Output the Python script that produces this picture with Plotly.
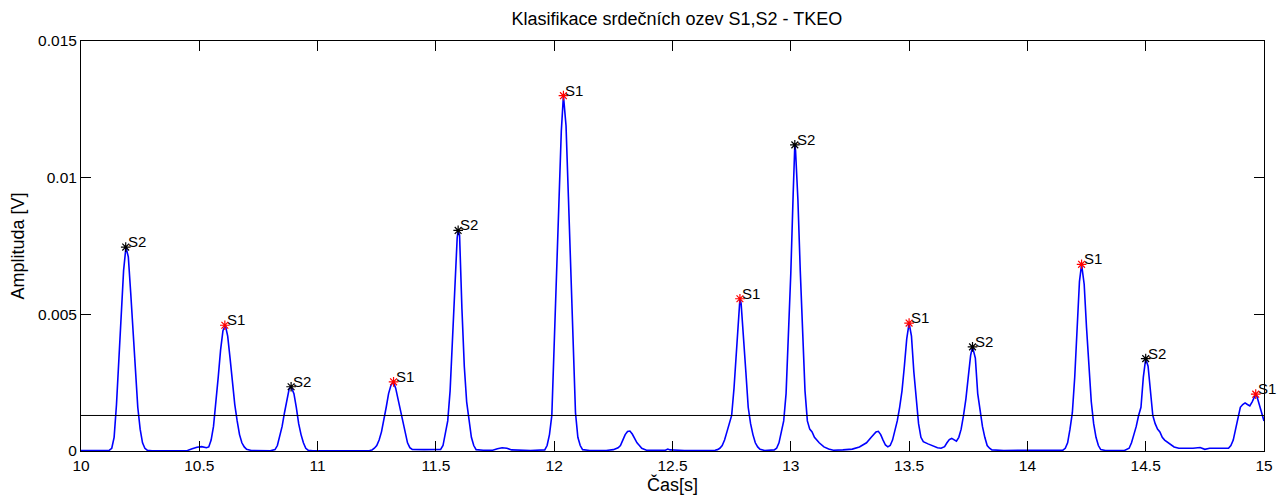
import plotly.graph_objects as go

# ---- data ----
time_s = [
    10.00, 10.05, 10.10, 10.12, 10.13, 10.14, 10.15, 10.16, 10.17, 10.18,
    10.19, 10.20, 10.21, 10.22, 10.23, 10.24, 10.25, 10.26, 10.27, 10.28,
    10.30, 10.40, 10.45, 10.47, 10.49, 10.51, 10.53, 10.54, 10.55, 10.56,
    10.57, 10.58, 10.59, 10.60, 10.61, 10.62, 10.63, 10.64, 10.65, 10.66,
    10.67, 10.68, 10.69, 10.70, 10.72, 10.80, 10.82, 10.83, 10.84, 10.85,
    10.86, 10.87, 10.88, 10.888, 10.90, 10.91, 10.92, 10.93, 10.94, 10.95,
    10.96, 10.98, 11.20, 11.22, 11.23, 11.24, 11.25, 11.26, 11.27, 11.28,
    11.29, 11.30, 11.31, 11.32, 11.33, 11.34, 11.35, 11.36, 11.37, 11.38,
    11.39, 11.40, 11.45, 11.50, 11.52, 11.53, 11.54, 11.55, 11.56, 11.57,
    11.58, 11.59, 11.594, 11.60, 11.61, 11.62, 11.63, 11.64, 11.65, 11.66,
    11.67, 11.70, 11.74, 11.76, 11.78, 11.80, 11.82, 11.90, 11.95, 11.96,
    11.97, 11.98, 11.99, 12.00, 12.01, 12.02, 12.03, 12.039, 12.05, 12.06,
    12.07, 12.08, 12.09, 12.10, 12.11, 12.12, 12.15, 12.22, 12.25, 12.27,
    12.28, 12.29, 12.30, 12.31, 12.32, 12.33, 12.34, 12.35, 12.36, 12.37,
    12.39, 12.42, 12.47, 12.48, 12.49, 12.55, 12.65, 12.68, 12.69, 12.70,
    12.71, 12.72, 12.73, 12.74, 12.75, 12.76, 12.77, 12.78, 12.785, 12.79,
    12.80, 12.81, 12.82, 12.83, 12.84, 12.85, 12.86, 12.87, 12.89, 12.92,
    12.93, 12.94, 12.95, 12.96, 12.97, 12.98, 12.99, 13.00, 13.01, 13.017,
    13.02, 13.03, 13.04, 13.05, 13.06, 13.07, 13.08, 13.09, 13.10, 13.12,
    13.14, 13.16, 13.18, 13.22, 13.26, 13.29, 13.32, 13.34, 13.36, 13.37,
    13.38, 13.39, 13.40, 13.41, 13.42, 13.43, 13.44, 13.45, 13.46, 13.47,
    13.48, 13.49, 13.50, 13.51, 13.52, 13.53, 13.54, 13.55, 13.56, 13.58,
    13.60, 13.62, 13.635, 13.65, 13.66, 13.67, 13.68, 13.69, 13.70, 13.71,
    13.72, 13.73, 13.74, 13.75, 13.76, 13.768, 13.78, 13.79, 13.80, 13.81,
    13.82, 13.83, 13.84, 13.85, 13.90, 14.00, 14.05, 14.10, 14.15, 14.16,
    14.17, 14.18, 14.19, 14.20, 14.21, 14.22, 14.229, 14.24, 14.25, 14.26,
    14.27, 14.28, 14.29, 14.30, 14.31, 14.33, 14.41, 14.43, 14.44, 14.45,
    14.46, 14.47, 14.48, 14.49, 14.50, 14.51, 14.52, 14.53, 14.54, 14.55,
    14.56, 14.57, 14.58, 14.60, 14.62, 14.64, 14.70, 14.73, 14.75, 14.77,
    14.80, 14.85, 14.86, 14.87, 14.88, 14.89, 14.90, 14.91, 14.92, 14.93,
    14.94, 14.95, 14.96, 14.965, 14.97, 14.98, 14.99, 15.00,
]
amplitude_v = [
    0.00002, 0.00002, 0.00002, 0.00003, 0.0001, 0.0005, 0.0017, 0.0032, 0.0049, 0.0066,
    0.00746, 0.0071, 0.0058, 0.0043, 0.0029, 0.0016, 0.0008, 0.0003, 0.0001, 0.00003,
    0.00001, 0.00001, 0.00002, 0.00008, 0.00014, 0.00016, 0.00012, 0.00015, 0.0004, 0.0009,
    0.0017, 0.0027, 0.0037, 0.0044, 0.0046, 0.0042, 0.0034, 0.0025, 0.0017, 0.0011,
    0.0006, 0.0003, 0.00015, 0.00006, 0.00002, 0.00001, 0.00005, 0.0002, 0.0005, 0.0009,
    0.0014, 0.0019, 0.00228, 0.00235, 0.0021, 0.0016, 0.0010, 0.0006, 0.0003, 0.0001,
    0.00003, 0.00001, 0.00001, 0.00002, 0.00004, 0.0001, 0.0002, 0.0004, 0.0007, 0.0011,
    0.0016, 0.0021, 0.0024, 0.00253, 0.0023, 0.0019, 0.0015, 0.0010, 0.0006, 0.0003,
    0.00012, 0.00006, 0.00005, 0.00005, 0.00006, 0.0002, 0.0006, 0.0011, 0.0022, 0.0041,
    0.0062, 0.0078, 0.00807, 0.0079, 0.0052, 0.0031, 0.0018, 0.0011, 0.0005, 0.0002,
    0.00005, 0.00003, 0.00003, 0.00008, 0.00012, 0.0001, 0.00004, 0.00002, 0.00002, 0.00004,
    0.0002, 0.0006, 0.0013, 0.0039, 0.0065, 0.0091, 0.0117, 0.0130, 0.0119, 0.0093,
    0.0064, 0.0037, 0.0014, 0.0005, 0.0002, 0.00005, 0.00002, 0.00002, 0.00005, 0.00012,
    0.0002, 0.0004, 0.0006, 0.00071, 0.00073, 0.00062, 0.00045, 0.0003, 0.0002, 0.0001,
    0.00003, 0.00002, 0.00003, 0.00007, 0.00004, 0.00002, 0.00002, 0.00003, 0.00005, 0.0001,
    0.0002, 0.0004, 0.0007, 0.0010, 0.0013, 0.0023, 0.0037, 0.0053, 0.00557, 0.0054,
    0.0043, 0.0029, 0.0016, 0.0010, 0.0006, 0.0003, 0.00015, 0.00006, 0.00002, 0.00002,
    0.00004, 0.0001, 0.0003, 0.0007, 0.0011, 0.0021, 0.0040, 0.0065, 0.0094, 0.0112,
    0.0110, 0.0092, 0.0066, 0.0042, 0.0022, 0.0011, 0.0008, 0.0007, 0.0005, 0.0003,
    0.00015, 0.00007, 0.00003, 0.00004, 0.00007, 0.00015, 0.0003, 0.0005, 0.0007, 0.00072,
    0.0006, 0.0004, 0.00022, 0.00015, 0.0002, 0.0004, 0.0007, 0.0011, 0.0016, 0.0022,
    0.0031, 0.0041, 0.00468, 0.0042, 0.0029, 0.0018, 0.0010, 0.0005, 0.00034, 0.00026,
    0.00018, 0.00012, 0.0001, 0.00016, 0.0003, 0.00042, 0.00046, 0.0004, 0.00036, 0.0005,
    0.0008, 0.0013, 0.0019, 0.0027, 0.0035, 0.00381, 0.0034, 0.0021, 0.0014, 0.0009,
    0.0005, 0.0002, 0.0001, 0.00004, 0.00002, 0.00003, 0.00003, 0.00002, 0.00003, 0.0001,
    0.0003, 0.0008, 0.0014, 0.0027, 0.0045, 0.0062, 0.00683, 0.0061, 0.0045, 0.0031,
    0.0018, 0.0010, 0.0005, 0.0002, 0.00005, 0.00002, 0.00002, 0.0001, 0.0003, 0.0006,
    0.0009, 0.0013, 0.0016, 0.0027, 0.00338, 0.0031, 0.0022, 0.0013, 0.0010, 0.0008,
    0.0007, 0.0005, 0.0004, 0.00028, 0.00015, 0.0001, 0.0001, 0.00013, 0.00006, 0.0001,
    0.0001, 0.0001, 0.0002, 0.0004, 0.0008, 0.0012, 0.0016, 0.0017, 0.00176, 0.0017,
    0.00165, 0.0018, 0.0020, 0.00208, 0.0020, 0.0017, 0.0014, 0.0011,
]

s1_time = [10.608, 11.321, 12.039, 12.785, 13.50, 14.229, 14.965]
s1_amp = [0.0046, 0.00253, 0.0130, 0.00557, 0.00468, 0.00683, 0.00208]
s2_time = [10.189, 10.888, 11.594, 13.017, 13.768, 14.50]
s2_amp = [0.00746, 0.00235, 0.00807, 0.0112, 0.00381, 0.00338]

threshold_v = 0.0013
x_range = [10, 15]
y_range = [0, 0.015]
x_ticks = [10, 10.5, 11, 11.5, 12, 12.5, 13, 13.5, 14, 14.5, 15]
x_tick_labels = ["10", "10.5", "11", "11.5", "12", "12.5", "13", "13.5", "14", "14.5", "15"]
y_ticks = [0, 0.005, 0.01, 0.015]
y_tick_labels = ["0", "0.005", "0.01", "0.015"]

FONT = "Liberation Sans, Arial, sans-serif"

fig = go.Figure()

fig.add_trace(go.Scatter(
    x=time_s, y=amplitude_v, mode="lines",
    line=dict(color="#0000FF", width=1.6), showlegend=False, hoverinfo="skip",
))
fig.add_trace(go.Scatter(
    x=x_range, y=[threshold_v, threshold_v], mode="lines",
    line=dict(color="black", width=1), showlegend=False, hoverinfo="skip",
))
fig.add_trace(go.Scatter(
    x=s1_time, y=s1_amp, mode="markers",
    marker=dict(symbol="asterisk-open", size=8, color="red", line=dict(color="red", width=1.2)),
    showlegend=False,
))
fig.add_trace(go.Scatter(
    x=s2_time, y=s2_amp, mode="markers",
    marker=dict(symbol="asterisk-open", size=8, color="black", line=dict(color="black", width=1.2)),
    showlegend=False,
))

annotations = []
for tx, ty in zip(s1_time, s1_amp):
    annotations.append(dict(x=tx, y=ty, text="S1", showarrow=False, xanchor="left",
                            yanchor="bottom", xshift=0, yshift=-5,
                            font=dict(family=FONT, size=15, color="black")))
for tx, ty in zip(s2_time, s2_amp):
    annotations.append(dict(x=tx, y=ty, text="S2", showarrow=False, xanchor="left",
                            yanchor="bottom", xshift=0, yshift=-5,
                            font=dict(family=FONT, size=15, color="black")))

axis_common = dict(
    showline=True, linecolor="black", linewidth=1, mirror="ticks",
    ticks="inside", ticklen=10, tickwidth=1, tickcolor="black",
    showgrid=False, zeroline=False,
    tickfont=dict(family=FONT, size=15.5, color="black"),
)

fig.update_layout(
    width=1282, height=502,
    margin=dict(l=81, r=9, t=41, b=51),
    paper_bgcolor="white", plot_bgcolor="white",
    title=dict(text="Klasifikace srdečních ozev S1,S2 - TKEO", x=0.528, xanchor="center",
               y=0.962, yanchor="middle",
               font=dict(family=FONT, size=18, color="black")),
    xaxis=dict(range=x_range, tickvals=x_ticks, ticktext=x_tick_labels,
               title=dict(text="Čas[s]", font=dict(family=FONT, size=18, color="black"), standoff=5),
               **axis_common),
    yaxis=dict(range=y_range, tickvals=y_ticks, ticktext=y_tick_labels,
               title=dict(text="Amplituda [V]", font=dict(family=FONT, size=18, color="black"), standoff=8),
               **axis_common),
    annotations=annotations,
    font=dict(family=FONT),
)

fig.write_html("out.html")
